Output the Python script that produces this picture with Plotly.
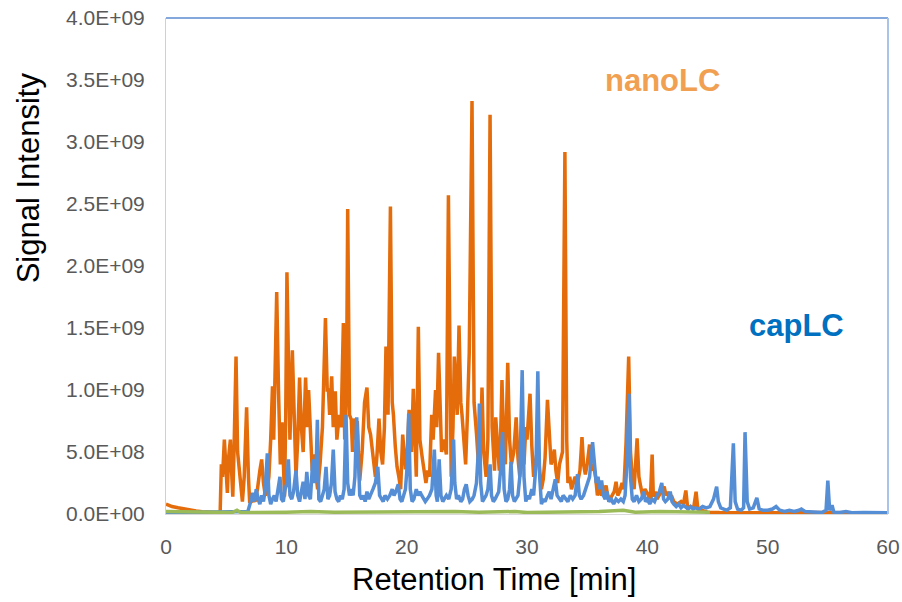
import plotly.graph_objects as go

# ---- data (intensities in units of 1E9) ----
nano_t = [0.0,0.5,1.0,1.5,2.0,2.5,3.0,3.5,4.0,4.5,4.6,4.7,4.85,5.0,5.1,5.2,5.35,5.45,5.55,5.65,5.82,5.95,6.05,6.15,6.25,6.35,6.5,6.7,6.85,6.95,
          7.1,7.25,7.4,7.6,7.8,7.95,8.1,8.25,8.4,8.55,8.7,8.85,8.95,9.05,9.2,9.35,9.5,9.64,9.75,9.85,9.95,10.05,10.2,10.3,10.5,10.65,10.8,10.95,11.1,11.25,
          11.4,11.6,11.75,11.85,12.0,12.15,12.3,12.45,12.6,12.8,13.0,13.25,13.4,13.5,13.6,13.77,13.9,14.07,14.2,14.4,14.55,14.74,14.85,15.0,15.1,15.25,15.4,15.5,15.6,15.75,
          15.9,16.0,16.1,16.3,16.5,16.7,16.85,17.0,17.2,17.4,17.55,17.7,17.85,18.0,18.15,18.28,18.45,18.65,18.8,18.9,19.05,19.2,19.35,19.5,19.67,19.8,19.9,20.05,20.2,20.3,
          20.4,20.55,20.7,20.8,20.97,21.1,21.3,21.45,21.6,21.75,21.9,22.08,22.2,22.4,22.5,22.65,22.8,22.9,23.1,23.3,23.47,23.6,23.7,23.85,23.96,24.1,24.2,24.35,24.5,24.6,
          24.75,24.9,25.05,25.2,25.43,25.6,25.8,25.9,26.0,26.15,26.26,26.4,26.6,26.75,26.93,27.1,27.3,27.4,27.55,27.7,27.8,27.92,28.05,28.2,28.4,28.55,28.7,28.9,29.1,29.25,
          29.4,29.6,29.75,29.9,30.0,30.25,30.4,30.55,30.7,30.9,31.05,31.2,31.35,31.5,31.7,31.85,32.0,32.15,32.27,32.4,32.55,32.7,32.8,32.95,33.15,33.3,33.4,33.55,33.7,33.85,
          34.0,34.2,34.4,34.57,34.7,34.85,35.0,35.2,35.35,35.5,35.7,35.85,36.0,36.2,36.4,36.57,36.7,36.9,37.1,37.25,37.4,37.55,37.7,37.9,38.05,38.23,38.45,38.6,38.75,38.9,
          39.15,39.3,39.45,39.6,39.8,39.95,40.1,40.25,40.4,40.5,40.65,40.8,41.0,41.2,41.4,41.55,41.7,41.85,42.0,42.2,42.5,42.8,43.0,43.2,43.35,43.6,43.85,44.05,44.2,44.5,
          45.0,46.0,48.0,50.0,52.0,54.0,56.0,58.0,60.0]
nano_v = [0.08,0.06,0.05,0.04,0.03,0.025,0.018,0.014,0.011,0.01,0.40,0.30,0.60,0.30,0.17,0.45,0.60,0.35,0.14,0.50,1.27,0.50,0.40,0.30,0.14,0.10,0.30,0.86,0.30,0.10,
          0.10,0.12,0.10,0.20,0.35,0.44,0.25,0.15,0.20,0.30,0.60,1.03,0.60,1.00,1.79,1.00,0.40,0.74,0.35,0.14,0.80,1.95,1.10,0.60,1.32,0.70,0.30,0.60,1.10,0.70,
          0.50,1.10,0.70,1.00,0.60,0.35,0.48,0.30,0.20,0.40,0.70,1.58,1.00,1.00,0.80,1.11,0.70,0.99,0.60,0.80,0.70,1.54,0.60,1.00,2.46,0.80,0.76,0.50,0.77,0.60,
          0.75,0.45,0.27,0.50,0.90,1.02,0.70,0.64,0.45,0.30,0.50,0.77,0.50,0.40,0.70,1.35,0.80,2.48,0.90,0.80,0.55,0.38,0.30,0.20,0.64,0.45,0.36,0.50,0.84,0.60,
          0.50,1.01,0.50,0.30,1.51,0.60,0.45,0.35,0.25,0.35,0.30,0.80,0.60,1.00,0.70,1.30,0.70,0.50,0.60,0.48,2.57,0.80,0.30,0.70,1.27,1.00,0.80,1.52,0.90,0.80,
          0.60,0.40,0.80,1.30,3.33,0.90,0.65,0.45,0.35,0.60,1.02,0.50,0.30,0.60,3.22,0.70,0.35,0.78,0.50,0.35,0.60,1.08,0.60,0.40,1.22,0.60,0.40,0.50,0.78,0.45,
          0.30,0.45,0.40,0.70,0.60,0.97,0.55,0.30,0.40,0.55,0.35,0.20,0.28,0.45,0.92,0.60,0.40,0.45,0.52,0.35,0.25,0.40,0.45,0.50,2.92,0.60,0.25,0.30,0.20,0.25,
          0.30,0.25,0.35,0.62,0.40,0.32,0.40,0.56,0.35,0.40,0.30,0.15,0.20,0.15,0.18,0.23,0.15,0.12,0.15,0.18,0.26,0.15,0.18,0.25,0.20,0.57,1.27,0.50,0.30,0.20,
          0.61,0.30,0.22,0.15,0.20,0.18,0.15,0.12,0.48,0.14,0.18,0.12,0.15,0.18,0.22,0.15,0.18,0.12,0.15,0.10,0.08,0.10,0.08,0.19,0.05,0.06,0.05,0.18,0.04,0.03,
          0.015,0.012,0.01,0.012,0.01,0.012,0.01,0.01,0.008]

cap_t = [0.0,6.0,6.8,7.1,7.2,7.35,7.5,7.65,7.8,7.95,8.1,8.25,8.42,8.55,8.7,8.85,9.0,9.15,9.3,9.47,9.6,9.75,9.9,10.05,10.17,10.3,10.45,10.6,10.8,10.95,
         11.1,11.25,11.4,11.55,11.7,11.85,12.0,12.2,12.35,12.45,12.58,12.7,12.85,13.0,13.15,13.3,13.45,13.6,13.75,13.9,14.05,14.2,14.35,14.5,14.65,14.8,14.96,15.1,15.25,15.4,
         15.55,15.7,15.85,15.95,16.1,16.25,16.4,16.55,16.7,16.85,17.0,17.2,17.4,17.6,17.75,17.9,18.05,18.2,18.4,18.6,18.8,18.95,19.1,19.3,19.45,19.6,19.75,19.9,20.05,20.17,
         20.3,20.45,20.6,20.8,20.95,21.1,21.25,21.4,21.55,21.7,21.9,22.1,22.3,22.45,22.55,22.7,22.85,23.0,23.15,23.3,23.5,23.7,23.9,24.0,24.15,24.3,24.5,24.65,24.8,24.95,
         25.1,25.25,25.45,25.6,25.8,25.95,26.04,26.15,26.3,26.45,26.6,26.75,26.93,27.05,27.2,27.35,27.5,27.65,27.8,27.97,28.1,28.25,28.4,28.55,28.67,28.8,28.95,29.1,29.25,29.4,
         29.6,29.75,29.9,30.05,30.2,30.4,30.55,30.75,30.9,31.05,31.2,31.35,31.5,31.7,31.85,32.0,32.2,32.35,32.5,32.7,32.85,33.0,33.2,33.4,33.6,33.8,34.0,34.2,34.35,34.5,
         34.7,34.85,35.0,35.2,35.45,35.6,35.75,35.9,36.05,36.2,36.35,36.5,36.65,36.8,37.0,37.2,37.4,37.6,37.8,38.0,38.15,38.3,38.48,38.6,38.75,38.9,39.1,39.3,39.5,39.7,
         39.85,40.0,40.2,40.4,40.6,40.8,41.0,41.2,41.35,41.5,41.7,41.9,42.05,42.2,42.4,42.6,42.8,43.0,43.2,43.4,43.6,43.8,44.0,44.3,44.6,44.9,45.2,45.5,45.76,45.9,
         46.1,46.3,46.6,46.9,47.15,47.3,47.5,47.8,48.0,48.12,48.3,48.5,48.8,49.1,49.3,49.6,50.0,50.4,50.7,51.0,51.4,51.8,52.2,52.6,52.8,53.1,53.6,54.0,54.5,54.85,
         55.0,55.15,55.35,55.5,56.0,56.5,57.0,58.0,59.0,60.0]
cap_v = [0.01,0.015,0.02,0.12,0.17,0.10,0.20,0.12,0.08,0.15,0.10,0.20,0.49,0.15,0.08,0.12,0.15,0.10,0.18,0.30,0.12,0.10,0.20,0.25,0.44,0.15,0.12,0.18,0.35,0.15,
         0.10,0.20,0.26,0.12,0.34,0.15,0.12,0.44,0.25,0.30,0.76,0.12,0.10,0.15,0.20,0.38,0.12,0.15,0.25,0.52,0.18,0.12,0.10,0.15,0.12,0.20,0.80,0.25,0.15,0.20,
         0.15,0.30,0.78,0.55,0.15,0.12,0.15,0.10,0.18,0.12,0.15,0.20,0.25,0.38,0.15,0.12,0.10,0.15,0.12,0.15,0.20,0.15,0.18,0.24,0.12,0.10,0.15,0.20,0.40,0.81,
         0.20,0.10,0.12,0.20,0.15,0.18,0.15,0.12,0.10,0.12,0.15,0.20,0.52,0.15,0.10,0.44,0.15,0.10,0.12,0.15,0.12,0.20,0.60,0.25,0.12,0.15,0.10,0.12,0.20,0.24,
         0.15,0.10,0.12,0.15,0.25,0.50,0.89,0.25,0.10,0.12,0.15,0.20,0.40,0.15,0.10,0.12,0.15,0.18,0.35,0.66,0.20,0.10,0.12,0.20,0.42,0.15,0.10,0.12,0.15,0.30,
         1.16,0.30,0.10,0.15,0.12,0.20,0.15,0.40,1.15,0.30,0.08,0.12,0.10,0.15,0.18,0.12,0.20,0.28,0.15,0.12,0.10,0.15,0.12,0.10,0.15,0.12,0.15,0.32,0.15,0.12,
         0.15,0.20,0.25,0.30,0.58,0.40,0.25,0.30,0.20,0.27,0.15,0.12,0.18,0.10,0.12,0.08,0.12,0.10,0.12,0.10,0.15,0.40,0.97,0.30,0.12,0.10,0.15,0.10,0.12,0.18,
         0.10,0.12,0.08,0.12,0.10,0.15,0.18,0.25,0.12,0.10,0.12,0.18,0.10,0.08,0.06,0.08,0.05,0.07,0.05,0.04,0.06,0.04,0.05,0.04,0.06,0.05,0.06,0.12,0.22,0.10,
         0.05,0.04,0.03,0.05,0.57,0.10,0.04,0.03,0.05,0.66,0.10,0.04,0.05,0.13,0.04,0.03,0.03,0.04,0.06,0.03,0.02,0.03,0.02,0.03,0.04,0.02,0.015,0.015,0.012,0.03,
         0.27,0.03,0.07,0.015,0.012,0.02,0.01,0.012,0.01,0.01]

blank_t = [0.0,1.0,3.0,5.5,5.9,6.2,10.0,12.0,14.0,18.0,20.0,24.0,26.0,29.0,30.0,33.0,36.0,38.0,39.0,41.0,43.0,45.2]
blank_v = [0.02,0.018,0.015,0.012,0.03,0.012,0.015,0.02,0.015,0.018,0.015,0.02,0.015,0.02,0.012,0.015,0.02,0.03,0.015,0.02,0.018,0.015]

y_ticks = [0, 0.5, 1.0, 1.5, 2.0, 2.5, 3.0, 3.5, 4.0]
y_ticktext = ["0.0E+00", "5.0E+08", "1.0E+09", "1.5E+09", "2.0E+09", "2.5E+09", "3.0E+09", "3.5E+09", "4.0E+09"]
x_ticks = [0, 10, 20, 30, 40, 50, 60]

FONT = "Arial, Liberation Sans, sans-serif"

fig = go.Figure()
fig.add_trace(go.Scatter(x=nano_t, y=nano_v, mode="lines", name="nanoLC",
                         line=dict(color="#E46C0A", width=3.5)))
fig.add_trace(go.Scatter(x=cap_t, y=cap_v, mode="lines", name="capLC",
                         line=dict(color="#558ED5", width=3.5)))
fig.add_trace(go.Scatter(x=blank_t, y=blank_v, mode="lines", name="blank",
                         line=dict(color="#9BBB59", width=3.5)))

fig.update_layout(
    width=902, height=602,
    margin=dict(l=166, r=14, t=18, b=88, autoexpand=False),
    paper_bgcolor="white", plot_bgcolor="white",
    showlegend=False,
    font=dict(family=FONT),
    xaxis=dict(range=[0, 60], tickvals=x_ticks, showgrid=False, zeroline=False, automargin=False,
               showline=True, linecolor="#D9D9D9", linewidth=1,
               ticks="", ticklabelstandoff=14,
               tickfont=dict(size=21, color="#595959", family=FONT)),
    yaxis=dict(range=[0, 4], tickvals=y_ticks, ticktext=y_ticktext, showgrid=False, zeroline=False, automargin=False,
               showline=True, linecolor="#D0D0D0", linewidth=1,
               ticks="", ticklabelstandoff=16,
               tickfont=dict(size=21, color="#595959", family=FONT)),
    annotations=[
        dict(text="Signal Intensity", xref="paper", yref="paper", x=-0.191, y=0.677,
             xanchor="center", yanchor="middle",
             textangle=-90, showarrow=False, font=dict(size=31, color="black", family=FONT)),
        dict(text="Retention Time [min]", xref="paper", yref="paper", x=0.454, y=-0.133,
             xanchor="center", yanchor="middle",
             showarrow=False, font=dict(size=31, color="black", family=FONT)),
        dict(text="<b>nanoLC</b>", xref="paper", yref="paper", x=0.687, y=0.875,
             xanchor="center", yanchor="middle",
             showarrow=False, font=dict(size=31, color="#F0A050", family=FONT)),
        dict(text="<b>capLC</b>", xref="paper", yref="paper", x=0.873, y=0.381,
             xanchor="center", yanchor="middle",
             showarrow=False, font=dict(size=31, color="#0070C0", family=FONT)),
    ],
    shapes=[
        dict(type="line", xref="paper", yref="paper", x0=0, x1=1, y0=1, y1=1,
             line=dict(color="#5B8BD0", width=1.5)),
        dict(type="line", xref="paper", yref="paper", x0=1, x1=1, y0=0, y1=1,
             line=dict(color="#A9C4E8", width=2)),
    ],
)

fig.write_html("out.html")
